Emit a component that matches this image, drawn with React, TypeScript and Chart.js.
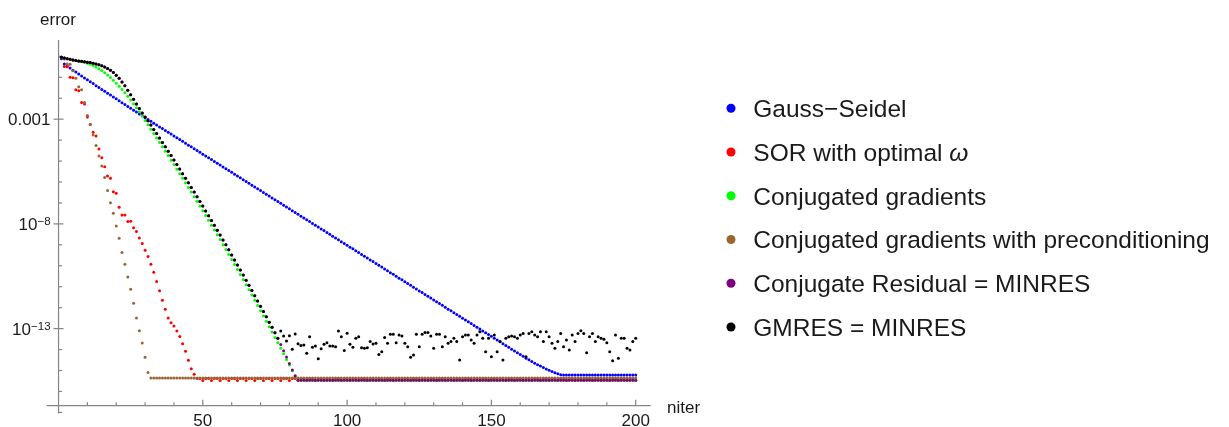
import React, { useEffect, useRef } from 'react';
import { Chart, registerables } from 'chart.js';

Chart.register(...registerables);

// Iteration index shared by every series
const niter = Array.from({ length: 200 }, (_, i) => i + 1);

// log10(error) per iteration, one row = 10 iterations
const gaussSeidelLog = [
  -0.12, -0.36, -0.46, -0.56, -0.66, -0.75, -0.84, -0.94, -1.03, -1.12,
  -1.21, -1.30, -1.40, -1.49, -1.58, -1.67, -1.76, -1.85, -1.94, -2.03,
  -2.12, -2.21, -2.30, -2.39, -2.48, -2.57, -2.66, -2.75, -2.84, -2.93,
  -3.02, -3.10, -3.19, -3.28, -3.37, -3.45, -3.54, -3.63, -3.71, -3.80,
  -3.89, -3.97, -4.06, -4.15, -4.24, -4.32, -4.41, -4.50, -4.58, -4.67,
  -4.76, -4.84, -4.93, -5.02, -5.11, -5.19, -5.28, -5.37, -5.45, -5.54,
  -5.63, -5.71, -5.80, -5.89, -5.98, -6.06, -6.15, -6.24, -6.32, -6.41,
  -6.50, -6.58, -6.67, -6.76, -6.85, -6.93, -7.02, -7.11, -7.19, -7.28,
  -7.37, -7.45, -7.54, -7.63, -7.72, -7.80, -7.89, -7.98, -8.06, -8.15,
  -8.24, -8.32, -8.41, -8.50, -8.59, -8.67, -8.76, -8.85, -8.93, -9.02,
  -9.11, -9.19, -9.28, -9.37, -9.46, -9.54, -9.63, -9.72, -9.80, -9.89,
  -9.98, -10.06, -10.15, -10.24, -10.33, -10.41, -10.50, -10.59, -10.67, -10.76,
  -10.85, -10.93, -11.02, -11.11, -11.20, -11.28, -11.37, -11.46, -11.54, -11.63,
  -11.72, -11.80, -11.89, -11.98, -12.07, -12.15, -12.24, -12.33, -12.41, -12.50,
  -12.59, -12.67, -12.76, -12.85, -12.94, -13.02, -13.11, -13.20, -13.28, -13.37,
  -13.46, -13.54, -13.63, -13.72, -13.81, -13.89, -13.98, -14.07, -14.15, -14.24,
  -14.32, -14.41, -14.49, -14.57, -14.65, -14.72, -14.79, -14.86, -14.93, -14.99,
  -15.05, -15.11, -15.16, -15.20, -15.22, -15.22, -15.22, -15.22, -15.22, -15.22,
  -15.22, -15.22, -15.22, -15.22, -15.22, -15.22, -15.22, -15.22, -15.22, -15.22,
  -15.22, -15.22, -15.22, -15.22, -15.22, -15.22, -15.22, -15.22, -15.22, -15.22,
];

const sorLog = [
  -0.06, -0.49, -0.50, -1.00, -1.02, -1.60, -1.64, -2.20, -2.28, -2.90,
  -3.25, -3.63, -3.80, -4.42, -4.84, -5.27, -5.71, -5.82, -6.46, -6.54,
  -7.21, -7.57, -7.58, -7.89, -7.87, -8.18, -8.36, -8.67, -8.94, -9.26,
  -9.56, -9.93, -10.31, -10.75, -11.19, -11.64, -12.07, -12.49, -12.72, -12.87,
  -13.11, -13.38, -13.72, -14.08, -14.51, -14.91, -15.18, -15.38, -15.38, -15.48,
  -15.38, -15.38, -15.48, -15.38, -15.38, -15.48, -15.38, -15.38, -15.48, -15.38,
  -15.38, -15.48, -15.38, -15.38, -15.48, -15.38, -15.38, -15.48, -15.38, -15.38,
  -15.48, -15.38, -15.38, -15.48, -15.38, -15.38, -15.48, -15.38, -15.38, -15.48,
  -15.38, -15.38, -15.48, -15.38, -15.38, -15.48, -15.38, -15.38, -15.48, -15.38,
  -15.38, -15.48, -15.38, -15.38, -15.48, -15.38, -15.38, -15.48, -15.38, -15.38,
  -15.48, -15.38, -15.38, -15.48, -15.38, -15.38, -15.48, -15.38, -15.38, -15.48,
  -15.38, -15.38, -15.48, -15.38, -15.38, -15.48, -15.38, -15.38, -15.48, -15.38,
  -15.38, -15.48, -15.38, -15.38, -15.48, -15.38, -15.38, -15.48, -15.38, -15.38,
  -15.48, -15.38, -15.38, -15.48, -15.38, -15.38, -15.48, -15.38, -15.38, -15.48,
  -15.38, -15.38, -15.48, -15.38, -15.38, -15.48, -15.38, -15.38, -15.48, -15.38,
  -15.38, -15.48, -15.38, -15.38, -15.48, -15.38, -15.38, -15.48, -15.38, -15.38,
  -15.48, -15.38, -15.38, -15.48, -15.38, -15.38, -15.48, -15.38, -15.38, -15.48,
  -15.38, -15.38, -15.48, -15.38, -15.38, -15.48, -15.38, -15.38, -15.48, -15.38,
  -15.38, -15.48, -15.38, -15.38, -15.48, -15.38, -15.38, -15.48, -15.38, -15.38,
  -15.48, -15.38, -15.38, -15.48, -15.38, -15.38, -15.48, -15.38, -15.38, -15.48,
];

const cgLog = [
  -0.04, -0.08, -0.11, -0.14, -0.17, -0.20, -0.23, -0.26, -0.29, -0.33,
  -0.38, -0.44, -0.51, -0.59, -0.68, -0.78, -0.89, -1.01, -1.14, -1.28,
  -1.43, -1.58, -1.74, -1.91, -2.08, -2.26, -2.45, -2.65, -2.85, -3.06,
  -3.27, -3.48, -3.69, -3.90, -4.11, -4.32, -4.53, -4.74, -4.96, -5.17,
  -5.39, -5.60, -5.82, -6.04, -6.26, -6.48, -6.70, -6.92, -7.15, -7.37,
  -7.60, -7.83, -8.06, -8.29, -8.52, -8.75, -8.99, -9.22, -9.46, -9.70,
  -9.94, -10.18, -10.42, -10.66, -10.91, -11.15, -11.40, -11.65, -11.90, -12.15,
  -12.40, -12.65, -12.91, -13.16, -13.42, -13.68, -13.94, -14.20, -14.47, -14.74,
  -15.01, -15.27, -15.47, -15.47, -15.47, -15.47, -15.47, -15.47, -15.47, -15.47,
  -15.47, -15.47, -15.47, -15.47, -15.47, -15.47, -15.47, -15.47, -15.47, -15.47,
  -15.47, -15.47, -15.47, -15.47, -15.47, -15.47, -15.47, -15.47, -15.47, -15.47,
  -15.47, -15.47, -15.47, -15.47, -15.47, -15.47, -15.47, -15.47, -15.47, -15.47,
  -15.47, -15.47, -15.47, -15.47, -15.47, -15.47, -15.47, -15.47, -15.47, -15.47,
  -15.47, -15.47, -15.47, -15.47, -15.47, -15.47, -15.47, -15.47, -15.47, -15.47,
  -15.47, -15.47, -15.47, -15.47, -15.47, -15.47, -15.47, -15.47, -15.47, -15.47,
  -15.47, -15.47, -15.47, -15.47, -15.47, -15.47, -15.47, -15.47, -15.47, -15.47,
  -15.47, -15.47, -15.47, -15.47, -15.47, -15.47, -15.47, -15.47, -15.47, -15.47,
  -15.47, -15.47, -15.47, -15.47, -15.47, -15.47, -15.47, -15.47, -15.47, -15.47,
  -15.47, -15.47, -15.47, -15.47, -15.47, -15.47, -15.47, -15.47, -15.47, -15.47,
  -15.47, -15.47, -15.47, -15.47, -15.47, -15.47, -15.47, -15.47, -15.47, -15.47,
];

const pcgLog = [
  -0.04, -0.13, -0.36, -0.38, -0.69, -1.05, -1.45, -1.60, -2.20, -2.83,
  -3.25, -3.75, -4.26, -4.76, -5.24, -5.79, -6.41, -6.99, -7.49, -8.10,
  -8.69, -9.36, -9.93, -10.54, -11.12, -11.79, -12.49, -13.10, -13.69, -14.37,
  -15.09, -15.36, -15.36, -15.36, -15.36, -15.36, -15.36, -15.36, -15.36, -15.36,
  -15.36, -15.36, -15.36, -15.36, -15.36, -15.36, -15.36, -15.36, -15.36, -15.36,
  -15.36, -15.36, -15.36, -15.36, -15.36, -15.36, -15.36, -15.36, -15.36, -15.36,
  -15.36, -15.36, -15.36, -15.36, -15.36, -15.36, -15.36, -15.36, -15.36, -15.36,
  -15.36, -15.36, -15.36, -15.36, -15.36, -15.36, -15.36, -15.36, -15.36, -15.36,
  -15.36, -15.36, -15.36, -15.36, -15.36, -15.36, -15.36, -15.36, -15.36, -15.36,
  -15.36, -15.36, -15.36, -15.36, -15.36, -15.36, -15.36, -15.36, -15.36, -15.36,
  -15.36, -15.36, -15.36, -15.36, -15.36, -15.36, -15.36, -15.36, -15.36, -15.36,
  -15.36, -15.36, -15.36, -15.36, -15.36, -15.36, -15.36, -15.36, -15.36, -15.36,
  -15.36, -15.36, -15.36, -15.36, -15.36, -15.36, -15.36, -15.36, -15.36, -15.36,
  -15.36, -15.36, -15.36, -15.36, -15.36, -15.36, -15.36, -15.36, -15.36, -15.36,
  -15.36, -15.36, -15.36, -15.36, -15.36, -15.36, -15.36, -15.36, -15.36, -15.36,
  -15.36, -15.36, -15.36, -15.36, -15.36, -15.36, -15.36, -15.36, -15.36, -15.36,
  -15.36, -15.36, -15.36, -15.36, -15.36, -15.36, -15.36, -15.36, -15.36, -15.36,
  -15.36, -15.36, -15.36, -15.36, -15.36, -15.36, -15.36, -15.36, -15.36, -15.36,
  -15.36, -15.36, -15.36, -15.36, -15.36, -15.36, -15.36, -15.36, -15.36, -15.36,
  -15.36, -15.36, -15.36, -15.36, -15.36, -15.36, -15.36, -15.36, -15.36, -15.36,
];

const crLog = [
  -0.04, -0.08, -0.11, -0.14, -0.17, -0.20, -0.22, -0.24, -0.26, -0.28,
  -0.30, -0.33, -0.36, -0.40, -0.45, -0.51, -0.58, -0.67, -0.77, -0.90,
  -1.05, -1.22, -1.41, -1.62, -1.83, -2.05, -2.27, -2.49, -2.71, -2.90,
  -3.08, -3.28, -3.49, -3.69, -3.90, -4.11, -4.32, -4.53, -4.74, -4.95,
  -5.17, -5.38, -5.60, -5.82, -6.04, -6.26, -6.48, -6.70, -6.93, -7.15,
  -7.38, -7.61, -7.84, -8.07, -8.30, -8.53, -8.77, -9.00, -9.24, -9.48,
  -9.72, -9.96, -10.20, -10.44, -10.69, -10.93, -11.18, -11.43, -11.68, -11.93,
  -12.18, -12.43, -12.69, -12.94, -13.20, -13.46, -13.76, -14.06, -14.36, -14.67,
  -14.97, -15.25, -15.47, -15.47, -15.47, -15.47, -15.47, -15.47, -15.47, -15.47,
  -15.47, -15.47, -15.47, -15.47, -15.47, -15.47, -15.47, -15.47, -15.47, -15.47,
  -15.47, -15.47, -15.47, -15.47, -15.47, -15.47, -15.47, -15.47, -15.47, -15.47,
  -15.47, -15.47, -15.47, -15.47, -15.47, -15.47, -15.47, -15.47, -15.47, -15.47,
  -15.47, -15.47, -15.47, -15.47, -15.47, -15.47, -15.47, -15.47, -15.47, -15.47,
  -15.47, -15.47, -15.47, -15.47, -15.47, -15.47, -15.47, -15.47, -15.47, -15.47,
  -15.47, -15.47, -15.47, -15.47, -15.47, -15.47, -15.47, -15.47, -15.47, -15.47,
  -15.47, -15.47, -15.47, -15.47, -15.47, -15.47, -15.47, -15.47, -15.47, -15.47,
  -15.47, -15.47, -15.47, -15.47, -15.47, -15.47, -15.47, -15.47, -15.47, -15.47,
  -15.47, -15.47, -15.47, -15.47, -15.47, -15.47, -15.47, -15.47, -15.47, -15.47,
  -15.47, -15.47, -15.47, -15.47, -15.47, -15.47, -15.47, -15.47, -15.47, -15.47,
  -15.47, -15.47, -15.47, -15.47, -15.47, -15.47, -15.47, -15.47, -15.47, -15.47,
];

const gmresLog = [
  -0.04, -0.08, -0.11, -0.14, -0.17, -0.20, -0.22, -0.24, -0.26, -0.28,
  -0.30, -0.33, -0.36, -0.40, -0.45, -0.51, -0.58, -0.67, -0.77, -0.90,
  -1.05, -1.22, -1.41, -1.62, -1.83, -2.05, -2.27, -2.49, -2.71, -2.90,
  -3.08, -3.28, -3.49, -3.69, -3.90, -4.11, -4.32, -4.53, -4.74, -4.95,
  -5.17, -5.38, -5.60, -5.82, -6.04, -6.26, -6.48, -6.70, -6.93, -7.15,
  -7.38, -7.61, -7.84, -8.07, -8.30, -8.53, -8.77, -9.00, -9.24, -9.48,
  -9.72, -9.96, -10.20, -10.44, -10.69, -10.93, -11.18, -11.43, -11.68, -11.93,
  -12.18, -12.43, -12.69, -12.94, -13.20, -13.46, -13.11, -13.35, -13.59, -13.34,
  -13.99, -13.26, -13.72, -13.80, -13.78, -14.18, -13.39, -13.89, -13.83, -14.44,
  -13.96, -13.75, -13.67, -13.83, -13.83, -13.86, -13.11, -13.39, -14.05, -13.22,
  -13.75, -13.89, -13.46, -13.39, -13.91, -13.94, -13.91, -13.62, -13.74, -13.70,
  -14.23, -14.10, -13.42, -13.70, -13.27, -13.27, -13.67, -13.31, -13.35, -13.70,
  -13.86, -14.37, -14.26, -13.27, -13.86, -13.27, -13.19, -13.19, -13.35, -13.94,
  -13.27, -13.27, -13.86, -13.39, -13.70, -13.62, -13.46, -13.62, -14.50, -13.39,
  -13.31, -13.31, -13.54, -13.70, -13.31, -13.15, -13.46, -14.10, -13.46, -14.34,
  -13.31, -14.10, -13.62, -14.50, -13.46, -13.39, -13.35, -13.39, -13.46, -13.31,
  -13.23, -14.34, -13.23, -13.15, -13.31, -13.39, -13.15, -13.62, -13.15, -13.39,
  -13.70, -13.94, -13.62, -13.23, -13.86, -13.54, -14.02, -13.31, -13.62, -13.23,
  -13.10, -13.23, -14.15, -13.39, -13.23, -13.62, -13.39, -13.46, -13.51, -13.67,
  -14.10, -14.53, -13.31, -14.42, -13.46, -13.46, -13.94, -14.02, -13.62, -13.46,
];

const seriesLogs = [gaussSeidelLog, sorLog, cgLog, pcgLog, crLog, gmresLog];
const seriesLabels = [
  'Gauss−Seidel',
  'SOR with optimal ω',
  'Conjugated gradients',
  'Conjugated gradients with preconditioning',
  'Conjugate Residual = MINRES',
  'GMRES = MINRES',
];
const seriesColors = ['#0000ff', '#ff0000', '#00ff00', '#996633', '#800080', '#000000'];

// Axis ticks
const xMajorTicks = [50, 100, 150, 200];
const xMinorTicks = [10, 20, 30, 40, 60, 70, 80, 90, 110, 120, 130, 140, 160, 170, 180, 190];
const yDecades = [0, -1, -2, -3, -4, -5, -6, -7, -8, -9, -10, -11, -12, -13, -14, -15, -16, -17];
const yLabelDecades = [-3, -8, -13];
const yLabelBase = ['0.001', '10', '10'];
const yLabelSup = ['', '−8', '−13'];
const xAxisTitle = 'niter';
const yAxisTitle = 'error';

const FONT = '"Liberation Sans", Arial, sans-serif';
const AXIS_COLOR = '#858585';
const TEXT_COLOR = '#1a1a1a';
const WIDTH = 1229;
const HEIGHT = 427;

const mmaAxes = {
  id: 'mmaAxes',
  beforeDatasetsDraw(chart: any) {
    const { ctx, chartArea } = chart;
    const xs = chart.scales.x;
    const ys = chart.scales.y;
    const ax = xs.getPixelForValue(0);
    const ay = chartArea.bottom;
    const seg = (x1: number, y1: number, x2: number, y2: number) => {
      ctx.beginPath();
      ctx.moveTo(x1, y1);
      ctx.lineTo(x2, y2);
      ctx.stroke();
    };
    ctx.save();
    ctx.strokeStyle = AXIS_COLOR;
    ctx.lineWidth = 1.2;
    seg(chartArea.left, ay, chartArea.right, ay);
    const yLow = ys.getPixelForValue(Math.pow(10, -17));
    seg(ax, chartArea.top, ax, yLow + 1);
    xMinorTicks.forEach((t) => {
      const px = xs.getPixelForValue(t);
      seg(px, ay, px, ay - 3.5);
    });
    xMajorTicks.forEach((t) => {
      const px = xs.getPixelForValue(t);
      seg(px, ay, px, ay - 6);
    });
    yDecades.forEach((d) => {
      const py = ys.getPixelForValue(Math.pow(10, d));
      if (yLabelDecades.includes(d)) seg(ax - 5, py, ax + 5, py);
      else seg(ax, py, ax + 3.5, py);
    });
    ctx.restore();
  },
  afterDraw(chart: any) {
    const { ctx, chartArea } = chart;
    const xs = chart.scales.x;
    const ys = chart.scales.y;
    const ax = xs.getPixelForValue(0);
    ctx.save();
    ctx.fillStyle = TEXT_COLOR;
    ctx.textBaseline = 'alphabetic';

    // y tick labels, right aligned, with superscript exponents
    const labelRight = ax - 8;
    yLabelDecades.forEach((d, i) => {
      const py = ys.getPixelForValue(Math.pow(10, d));
      ctx.font = `17px ${FONT}`;
      const w1 = ctx.measureText(yLabelBase[i]).width;
      ctx.font = `11.5px ${FONT}`;
      const w2 = yLabelSup[i] ? ctx.measureText(yLabelSup[i]).width : 0;
      const x0 = labelRight - w1 - w2;
      ctx.font = `17px ${FONT}`;
      ctx.textAlign = 'left';
      ctx.fillText(yLabelBase[i], x0, py + 6.1);
      if (yLabelSup[i]) {
        ctx.font = `11.5px ${FONT}`;
        ctx.fillText(yLabelSup[i], x0 + w1, py + 1.5);
      }
    });

    // x tick labels
    ctx.font = `17px ${FONT}`;
    ctx.textAlign = 'center';
    xMajorTicks.forEach((t) => {
      ctx.fillText(String(t), xs.getPixelForValue(t), chartArea.bottom + 19.8);
    });

    // axis titles
    ctx.textAlign = 'left';
    ctx.fillText(yAxisTitle, ax - 18.5, chartArea.top - 15.5);
    ctx.fillText(xAxisTitle, chartArea.right + 16.3, chartArea.bottom + 7.3);

    // legend
    const markerX = 731;
    const textX = 753.3;
    const rowY0 = 108.3;
    const rowGap = 43.75;
    const legendFont = 24.5;
    seriesLabels.forEach((label, i) => {
      const cy = rowY0 + i * rowGap;
      ctx.fillStyle = seriesColors[i];
      ctx.beginPath();
      ctx.arc(markerX, cy, 4.5, 0, Math.PI * 2);
      ctx.fill();
      ctx.fillStyle = TEXT_COLOR;
      const base = cy + 0.358 * legendFont;
      if (label.endsWith('ω')) {
        const head = label.slice(0, -1);
        ctx.font = `${legendFont}px ${FONT}`;
        ctx.fillText(head, textX, base);
        const w = ctx.measureText(head).width;
        ctx.font = `italic ${legendFont}px ${FONT}`;
        ctx.fillText('ω', textX + w, base);
      } else {
        ctx.font = `${legendFont}px ${FONT}`;
        ctx.fillText(label, textX, base);
      }
    });
    ctx.restore();
  },
};

export default function App() {
  const canvasRef = useRef<HTMLCanvasElement | null>(null);

  useEffect(() => {
    const canvas = canvasRef.current;
    if (!canvas) return;
    const chart = new Chart(canvas, {
      type: 'scatter',
      data: {
        datasets: seriesLogs.map((logs, i) => ({
          label: seriesLabels[i],
          data: logs.map((e, k) => ({ x: niter[k], y: Math.pow(10, e) })),
          backgroundColor: seriesColors[i],
          borderColor: seriesColors[i],
          pointRadius: 1.5,
          pointBorderWidth: 0,
          pointHoverRadius: 1.5,
          showLine: false,
          order: seriesLogs.length - i,
          clip: false as any,
        })),
      },
      options: {
        responsive: false,
        animation: false,
        devicePixelRatio: 1,
        events: [],
        layout: { padding: { left: 46.7, top: 40, right: 578.3, bottom: 21.3 } },
        plugins: { legend: { display: false }, tooltip: { enabled: false } },
        scales: {
          x: { type: 'linear', min: -4.1, max: 205.2, display: false, bounds: 'data' },
          y: { type: 'logarithmic', min: Math.pow(10, -16.68), max: Math.pow(10, 0.78), display: false, bounds: 'data' },
        },
      },
      plugins: [mmaAxes],
    } as any);
    return () => chart.destroy();
  }, []);

  return (
    <canvas
      ref={canvasRef}
      width={WIDTH}
      height={HEIGHT}
      style={{ position: 'fixed', top: 0, left: 0, display: 'block', width: WIDTH, height: HEIGHT, background: '#fff' }}
    />
  );
}
